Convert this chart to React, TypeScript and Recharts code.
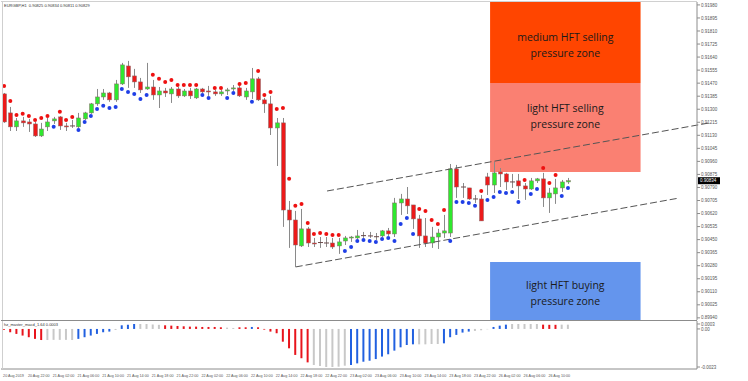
import React from "react";
import {
  ComposedChart,
  Bar,
  Line,
  XAxis,
  YAxis,
  Cell,
  ReferenceArea,
  ReferenceLine,
} from "recharts";

// EURGBP H1 candles, bar 0 = 20 Aug 2019 18:00
const opens = [
  0.914, 0.91276, 0.91185, 0.91224, 0.91217, 0.91204, 0.91126, 0.91185, 0.91224, 0.9125,
  0.91191, 0.91191, 0.91185, 0.91237, 0.91276, 0.91335, 0.9138, 0.91406, 0.91361, 0.91465,
  0.91582, 0.91517, 0.91478, 0.91432, 0.91445, 0.91393, 0.91419, 0.914, 0.91432, 0.91387,
  0.91419, 0.91374, 0.91432, 0.91419, 0.91413, 0.914, 0.91419, 0.91432, 0.91439, 0.9138,
  0.91413, 0.91498, 0.91361, 0.91335, 0.91178, 0.91211, 0.90643, 0.90578, 0.90409, 0.9052,
  0.90428, 0.90428, 0.90428, 0.90428, 0.90409, 0.90441, 0.90461, 0.90461, 0.90474, 0.90474,
  0.90467, 0.90474, 0.90507, 0.90487, 0.90689, 0.90715, 0.90676, 0.90585, 0.90474, 0.90428,
  0.90467, 0.90493, 0.90493, 0.90911, 0.90793, 0.90787, 0.90715, 0.90715, 0.90859, 0.90806,
  0.90891, 0.90878, 0.90826, 0.90833, 0.908, 0.9078, 0.90833, 0.90846, 0.90722, 0.90748,
  0.90787, 0.90826,
];
const highs = [
  0.91406, 0.91315, 0.91243, 0.9125, 0.91237, 0.91217, 0.91211, 0.91243, 0.9125, 0.91256,
  0.91211, 0.9123, 0.91276, 0.91283, 0.91341, 0.91432, 0.91432, 0.91413, 0.91491, 0.91602,
  0.91615, 0.91563, 0.91504, 0.91602, 0.91491, 0.91445, 0.91439, 0.91445, 0.91445, 0.91432,
  0.91439, 0.91439, 0.91439, 0.91452, 0.91426, 0.91426, 0.91439, 0.91458, 0.91452, 0.91439,
  0.91569, 0.91511, 0.91374, 0.91387, 0.91243, 0.91243, 0.90702, 0.90637, 0.9065, 0.90533,
  0.90461, 0.90467, 0.90467, 0.90461, 0.90461, 0.90474, 0.90474, 0.90513, 0.905, 0.905,
  0.90493, 0.90513, 0.90526, 0.90722, 0.90748, 0.90793, 0.90676, 0.90611, 0.90591, 0.90533,
  0.9052, 0.90611, 0.90943, 0.90937, 0.90819, 0.90787, 0.90741, 0.90741, 0.90885, 0.90956,
  0.90917, 0.90885, 0.90878, 0.90878, 0.90819, 0.90852, 0.90852, 0.90885, 0.90787, 0.90846,
  0.90839, 0.90852,
];
const lows = [
  0.91211, 0.91158, 0.91158, 0.91185, 0.91152, 0.91119, 0.91119, 0.91158, 0.91204, 0.91165,
  0.91158, 0.91178, 0.91178, 0.9123, 0.9127, 0.91322, 0.91361, 0.91348, 0.91348, 0.91458,
  0.91439, 0.91439, 0.91406, 0.91426, 0.91361, 0.91308, 0.9138, 0.91341, 0.91374, 0.9138,
  0.91367, 0.91367, 0.91406, 0.91387, 0.91387, 0.91387, 0.91393, 0.91419, 0.9138, 0.91361,
  0.91367, 0.91354, 0.91276, 0.91132, 0.9093, 0.90533, 0.90396, 0.90272, 0.90402, 0.90402,
  0.90402, 0.90396, 0.90402, 0.90389, 0.90357, 0.90415, 0.90435, 0.90454, 0.90461, 0.90461,
  0.90448, 0.90467, 0.90474, 0.90467, 0.90611, 0.90617, 0.9052, 0.90396, 0.90402, 0.90396,
  0.90389, 0.90461, 0.90467, 0.90722, 0.90722, 0.90709, 0.90689, 0.90572, 0.90741, 0.90754,
  0.90793, 0.90774, 0.90787, 0.90715, 0.90709, 0.90774, 0.90819, 0.90663, 0.90624, 0.90683,
  0.90761, 0.90813,
];
const closes = [
  0.91217, 0.91185, 0.91224, 0.91211, 0.91204, 0.91126, 0.91171, 0.91217, 0.91237, 0.91191,
  0.91185, 0.91188, 0.91243, 0.91276, 0.91335, 0.9138, 0.91406, 0.91361, 0.91465, 0.91589,
  0.91511, 0.91478, 0.91426, 0.91445, 0.91393, 0.91419, 0.91406, 0.91432, 0.91387, 0.91419,
  0.91387, 0.91432, 0.91413, 0.91413, 0.914, 0.91413, 0.91426, 0.91439, 0.91387, 0.91419,
  0.91498, 0.91361, 0.91335, 0.91178, 0.91211, 0.90643, 0.90578, 0.90415, 0.9052, 0.90428,
  0.90424, 0.90431, 0.90425, 0.90402, 0.90435, 0.90461, 0.90467, 0.90474, 0.90476, 0.90472,
  0.90469, 0.90507, 0.90487, 0.90689, 0.90715, 0.9067, 0.90585, 0.90474, 0.90428, 0.90467,
  0.90493, 0.90507, 0.90911, 0.90793, 0.90791, 0.90715, 0.90713, 0.90572, 0.90806, 0.90885,
  0.90878, 0.90826, 0.90824, 0.908, 0.9078, 0.90833, 0.90846, 0.90722, 0.90754, 0.90787,
  0.90826, 0.90834,
];

// HFT dots: red above the bar (selling), blue below (buying)
const sellDots = [
  0.91452, 0.91354, 0.91263, 0.9127, 0.91256, 0.9123, 0.91243, 0.91256, null, 0.91283,
  0.9123, 0.9125, null, null, null, null, null, null, null, null,
  null, null, null, null, 0.91524, 0.91498, 0.91478, 0.91491, 0.91458, 0.91458,
  0.91458, 0.91458, null, null, 0.91439, 0.91439, null, null, 0.91465, 0.91471,
  null, 0.9155, 0.91393, 0.91413, 0.91302, 0.91308, 0.90846, 0.9067, 0.90683, 0.90559,
  0.90487, 0.90493, 0.90487, 0.9048, 0.9048, null, null, null, null, null,
  null, null, null, null, null, null, null, 0.9065, 0.90637, 0.90578,
  0.90552, 0.90643, null, null, null, null, null, 0.90767, null, null,
  null, null, null, null, 0.90839, null, null, 0.90917, 0.90819, 0.90872,
  null, null,
];
const buyDots = [
  null, null, null, null, null, null, null, null, 0.91185, null,
  null, null, 0.91165, 0.91217, 0.91256, 0.91302, 0.91322, 0.91308, 0.91315, 0.91432,
  0.91413, 0.914, 0.91367, 0.91393, null, null, null, null, null, null,
  null, null, 0.91393, 0.91374, null, null, 0.91374, 0.91406, null, null,
  0.91348, null, null, null, null, null, null, null, null, null,
  null, null, null, null, null, 0.90376, 0.90402, 0.90441, 0.90448, 0.90441,
  0.90435, 0.90454, 0.90461, 0.90441, 0.90552, 0.90591, 0.90487, null, null, null,
  null, null, 0.90441, 0.90696, 0.90696, 0.90689, 0.9067, null, 0.90709, 0.90728,
  0.90761, 0.90754, 0.90761, 0.90696, null, 0.90748, 0.9078, null, null, null,
  0.90735, 0.90787,
];

// hz_master_macd histogram + its trend flag (r falling, b rising, g flat)
const macdValues = [
  -0.00005, -0.0002, -0.0003, -0.0004, -0.0005, -0.0006, -0.00067, -0.00067, -0.00066, -0.00066,
  -0.00066, -0.00067, -0.0006, -0.0005, -0.0004, -0.0003, -0.0002, -0.00016, -0.00006, 0.00022,
  0.00026, 0.0003, 0.0003, 0.0003, 0.00027, 0.00025, 0.00022, 0.0002, 0.00018, 0.00016,
  0.00014, 0.00014, 0.00012, 0.00012, 0.00012, 0.0001, 0.00008, 0.00006, 0.0001, 0.0001,
  0.00012, 0.0001, -0.00004, -0.00016, -0.00026, -0.00077, -0.00117, -0.00157, -0.00177, -0.00202,
  -0.00218, -0.00224, -0.0023, -0.0023, -0.00228, -0.00222, -0.00218, -0.00208, -0.00198, -0.00192,
  -0.00182, -0.00167, -0.00153, -0.00131, -0.00111, -0.00097, -0.00093, -0.00093, -0.00093, -0.00091,
  -0.00091, -0.00087, -0.0005, -0.00036, -0.00022, -0.00016, -0.00012, -0.00008, -0.00002, 0.00012,
  0.0002, 0.00026, 0.0003, 0.0003, 0.0003, 0.0003, 0.0003, 0.00026, 0.00025, 0.00025,
  0.00026, 0.00026,
];
const macdTrend =
  "rrrrrrrgggggbbbbbbgbbbggggrrrrrrrrrrggrrbrrrrrrrrrggggggbbbbbbbbbbbggggbbbbbgggbbbgggggrrrgg".split("");

const timeLabels = [
  "20 Aug 2019", "20 Aug 22:00", "21 Aug 02:00", "21 Aug 06:00", "21 Aug 10:00", "21 Aug 14:00",
  "21 Aug 18:00", "21 Aug 22:00", "22 Aug 02:00", "22 Aug 06:00", "22 Aug 10:00", "22 Aug 14:00",
  "22 Aug 18:00", "22 Aug 22:00", "23 Aug 02:00", "23 Aug 06:00", "23 Aug 10:00", "23 Aug 14:00",
  "23 Aug 18:00", "23 Aug 22:00", "26 Aug 02:00", "26 Aug 06:00", "26 Aug 10:00",
];
const priceTicks = [
  0.9198, 0.91895, 0.9181, 0.91725, 0.9164, 0.91555, 0.9147, 0.91385, 0.913, 0.91215, 0.9113,
  0.91045, 0.9096, 0.90875, 0.9079, 0.90705, 0.9062, 0.90535, 0.9045, 0.90365, 0.9028, 0.90195,
  0.9011, 0.90025, 0.8994,
];
const macdTicks = [0.0003, 0, -0.0023];

const symbolInfo = "EURGBP,H1  0.90825 0.90834 0.90811 0.90829";
const macdTitle = "hz_master_macd_1.64 0.0003";

const zones = [
  { lines: ["medium HFT selling", "pressure zone"], fromBar: 78, toBar: 102, low: 0.91471, high: 0.92 },
  { lines: ["light HFT selling", "pressure zone"], fromBar: 78, toBar: 102, low: 0.90891, high: 0.91471 },
  { lines: ["light HFT buying", "pressure zone"], fromBar: 78, toBar: 102, low: 0.899, high: 0.90304 },
];
const channelUpper = [{ bar: 52, price: 0.90767 }, { bar: 113, price: 0.91211 }];
const channelLower = [{ bar: 47, price: 0.90272 }, { bar: 108, price: 0.9072 }];

const SLOTS = 112;
const zoneFills = ["#ff4500", "#fa8072", "#6495ed"];
const zoneTextTop = [35, 25, 23];
const trendFill: Record<string, string> = { r: "#e8141c", b: "#2160e0", g: "#c8c8c8" };
const tinyFont = { fontSize: 4.5, fill: "#555", fontFamily: "Liberation Sans" };

function Candle(props: any) {
  const { x, y, width, height, payload } = props;
  if (!payload || payload.open == null) return null;
  const { open, high, low, close } = payload;
  const top = Math.min(y, y + height);
  const span = Math.abs(height);
  const k = span / (high - low);
  const at = (v: number) => top + (high - v) * k;
  const mid = Math.round(x + width / 2) + 0.5;
  const bodyTop = at(Math.max(open, close));
  const bodyH = at(Math.min(open, close)) - bodyTop;
  const doji = Math.abs(close - open) < 0.00003;
  return (
    <g>
      <line x1={mid} x2={mid} y1={top} y2={top + span} stroke="#8a8a8a" strokeWidth={1} />
      {doji ? (
        <line x1={mid - 2.5} x2={mid + 2.5} y1={bodyTop} y2={bodyTop} stroke="#6a4a4a" strokeWidth={1} />
      ) : (
        <rect
          x={mid - 2}
          y={bodyTop}
          width={4}
          height={Math.max(1, bodyH)}
          fill={close > open ? "#2ee82e" : "#ec1a1a"}
          stroke="#8a6a6a"
          strokeWidth={0.5}
        />
      )}
    </g>
  );
}

function ZoneText({ viewBox, lines, top }: any) {
  if (!viewBox) return null;
  const cx = viewBox.x + viewBox.width / 2;
  return (
    <g>
      {lines.map((t: string, k: number) => (
        <text
          key={k}
          x={cx}
          y={viewBox.y + top + k * 16}
          textAnchor="middle"
          dominantBaseline="central"
          fontSize={10.5}
          fontFamily="Open Sans"
          fill="#1a1a1a"
        >
          {t}
        </text>
      ))}
    </g>
  );
}

function PriceTag({ viewBox, value }: any) {
  if (!viewBox) return null;
  const x = viewBox.x + viewBox.width + 1;
  return (
    <g>
      <rect x={x} y={viewBox.y - 3.5} width={22} height={7} fill="#000" />
      <text x={x + 2} y={viewBox.y + 1.6} fontSize={4.5} fontFamily="Liberation Sans" fill="#fff">
        {value}
      </text>
    </g>
  );
}

const tickBars = timeLabels.map((_, k) => k * 4);

function TimeTick({ x, y, payload }: any) {
  const label = timeLabels[tickBars.indexOf(payload.value)];
  return (
    <text x={x - 1} y={y + 5.5} fontSize={3.7} fill="#555" fontFamily="Liberation Sans" textAnchor="start">
      {label}
    </text>
  );
}

export default function App() {
  const rows = Array.from({ length: SLOTS }, (_, i) =>
    i < opens.length
      ? {
          i,
          open: opens[i],
          high: highs[i],
          low: lows[i],
          close: closes[i],
          range: [lows[i], highs[i]],
          sell: sellDots[i],
          buy: buyDots[i],
          macd: macdValues[i],
        }
      : { i }
  );
  const last = closes[closes.length - 1];

  return (
    <div style={{ position: "relative", width: 748, height: 381, background: "#fff", overflow: "hidden" }}>
      <style>{"body{margin:0}"}</style>

      <div style={{ position: "absolute", left: 0, top: 0 }}>
        <ComposedChart width={748} height={321} data={rows} margin={{ top: 2, right: 0, bottom: 1, left: 1 }}>
          <XAxis dataKey="i" type="category" hide padding={{ left: 0, right: 2 }} />
          <XAxis xAxisId="bars" type="number" hide domain={[-0.5, 111.83]} allowDataOverflow />
          <YAxis
            orientation="right"
            width={51}
            domain={[0.89926, 0.91999]}
            allowDataOverflow
            ticks={priceTicks}
            interval={0}
            tickFormatter={(v: number) => v.toFixed(5)}
            tick={tinyFont}
            tickSize={3}
            tickMargin={1}
            stroke="#8c8c8c"
          />
          {zones.map((z, k) => (
            <ReferenceArea
              key={k}
              xAxisId="bars"
              x1={z.fromBar}
              x2={z.toBar}
              y1={z.low}
              y2={z.high}
              fill={zoneFills[k]}
              fillOpacity={1}
              stroke="none"
              ifOverflow="hidden"
              label={(p: any) => <ZoneText viewBox={p.viewBox} lines={z.lines} top={zoneTextTop[k]} />}
            />
          ))}
          <ReferenceLine
            xAxisId="bars"
            segment={channelUpper.map((c) => ({ x: c.bar, y: c.price }))}
            stroke="#555"
            strokeDasharray="7 3"
            ifOverflow="visible"
          />
          <ReferenceLine
            xAxisId="bars"
            segment={channelLower.map((c) => ({ x: c.bar, y: c.price }))}
            stroke="#555"
            strokeDasharray="7 3"
            ifOverflow="visible"
          />
          <Bar dataKey="range" barSize={4} shape={<Candle />} isAnimationActive={false} />
          <Line
            dataKey="sell"
            stroke="none"
            dot={{ r: 2, fill: "#ee1111", stroke: "none" }}
            activeDot={false}
            isAnimationActive={false}
          />
          <Line
            dataKey="buy"
            stroke="none"
            dot={{ r: 2, fill: "#1f3fe6", stroke: "none" }}
            activeDot={false}
            isAnimationActive={false}
          />
          <ReferenceLine
            y={last}
            stroke="none"
            ifOverflow="visible"
            label={(p: any) => <PriceTag viewBox={p.viewBox} value={last.toFixed(5)} />}
          />
        </ComposedChart>
      </div>

      <div style={{ position: "absolute", left: 0, top: 320 }}>
        <ComposedChart width={748} height={61} data={rows} margin={{ top: 1, right: 0, bottom: 0, left: 1 }}>
          <XAxis
            dataKey="i"
            type="category"
            padding={{ left: 0, right: 2 }}
            ticks={tickBars}
            interval={0}
            tick={<TimeTick />}
            tickLine={false}
            tickSize={0}
            axisLine={{ stroke: "#8c8c8c" }}
            height={12}
          />
          <YAxis
            orientation="right"
            width={51}
            domain={[-0.00242, 0.00048]}
            allowDataOverflow
            ticks={macdTicks}
            interval={0}
            tickFormatter={(v: number) => (v === 0 ? "0.00" : v.toFixed(4))}
            tick={tinyFont}
            tickSize={3}
            tickMargin={1}
            stroke="#8c8c8c"
          />
          <Bar dataKey="macd" barSize={2} isAnimationActive={false}>
            {rows.map((_, k) => (
              <Cell key={k} fill={trendFill[macdTrend[k]] || "#c8c8c8"} />
            ))}
          </Bar>
        </ComposedChart>
      </div>

      {/* panel frames */}
      <div style={{ position: "absolute", left: 1, top: 1, width: 696, height: 1, background: "#d0d0d0" }} />
      <div style={{ position: "absolute", left: 2, top: 1, width: 1, height: 368, background: "#cfcfcf" }} />
      <div style={{ position: "absolute", left: 1, top: 320, width: 696, height: 1, background: "#8c8c8c" }} />

      <div style={{ position: "absolute", left: 4, top: 3, fontSize: 4, color: "#333", fontFamily: "Liberation Sans", whiteSpace: "pre" }}>
        {symbolInfo}
      </div>
      <div style={{ position: "absolute", left: 4, top: 322, fontSize: 4, color: "#333", fontFamily: "Liberation Sans", whiteSpace: "pre" }}>
        {macdTitle}
      </div>
    </div>
  );
}
